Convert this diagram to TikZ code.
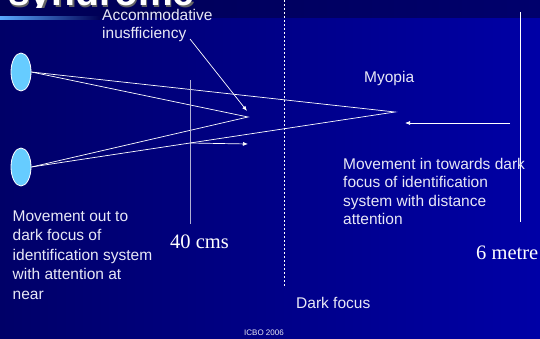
\documentclass[tikz,border=0pt]{standalone}
\usepackage{fontspec}
\setmainfont{Liberation Sans}
\newfontfamily\timesfont{Liberation Serif}
\usetikzlibrary{shapes.geometric, arrows.meta}
\definecolor{bgleft}{RGB}{0,0,104}
\definecolor{bgright}{RGB}{0,0,166}
\definecolor{bandleft}{RGB}{0,0,84}
\definecolor{bandright}{RGB}{0,0,108}
\definecolor{glow}{RGB}{90,170,255}
\definecolor{eyeblue}{RGB}{102,204,255}
\definecolor{labelgray}{RGB}{232,232,246}
\definecolor{rulegray}{RGB}{176,176,210}

\begin{document}
\begin{tikzpicture}[x=1pt,y=-1pt,
  eye/.style={draw=white,shape=ellipse,fill=eyeblue,line width=0.8pt,minimum width=20pt,minimum height=38pt,inner sep=0pt},
  ray/.style={draw=white,line width=0.7pt},
  tip/.style={ray,-{Latex[length=5pt,width=4pt]}},
  lbl/.style={text=labelgray,font=\fontsize{15.5}{19}\selectfont,inner sep=0pt,align=left,anchor=base west},
  dist/.style={text=white,font=\timesfont\fontsize{20.5}{24}\selectfont,inner sep=0pt,anchor=base west},
  headline/.style={anchor=base west,inner sep=0pt,font=\fontsize{39}{39}\selectfont\bfseries}]
  \useasboundingbox (0,0) rectangle (540,339);
  \clip (0,0) rectangle (540,339);
  \shade[left color=bgleft,right color=bgright] (0,18) rectangle (540,339);
  \shade[left color=bandleft,right color=bandright] (0,0) rectangle (540,18);
  \shade[left color=glow,right color=bandleft] (0,17) rectangle (100,19.5);
  \begin{scope}
    \clip (0,0) rectangle (540,8);
    \node[headline,text=black!60] (titleshadow) at (9.5,7.5) {syndrome};
    \node[headline,text=white] (title) at (8,6) {syndrome};
  \end{scope}
  \node[eye] (eyeU) at (21,72) {};
  \node[eye] (eyeL) at (21,167) {};
  \coordinate (nearpt) at (248,117);
  \coordinate (farpt) at (395,112);
  \draw[ray] (eyeU.east) -- (nearpt) -- (eyeL.east);
  \draw[ray] (eyeU.east) -- (farpt) -- (eyeL.east);
  \coordinate (nearT) at (190,80);
  \coordinate (nearB) at (190,224);
  \coordinate (darkT) at (284,0);
  \coordinate (darkB) at (284,287);
  \coordinate (farT) at (520,12);
  \coordinate (farB) at (520,222);
  \draw[ray,draw=rulegray] (nearT) -- (nearB);
  \draw[ray,dash pattern=on 2pt off 2pt] (darkT) -- (darkB);
  \draw[ray] (farT) -- (farB);
  \node[lbl,font=\fontsize{15.5}{18}\selectfont] (accom) at (102,38.5) {Accommodative\\inusfficiency};
  \node[lbl] (myopia) at (364,83) {Myopia};
  \node[lbl,font=\fontsize{15.5}{18.5}\selectfont] (inward) at (343,224.5) {Movement in towards dark\\focus of identification\\system with distance\\attention};
  \node[lbl,font=\fontsize{15.5}{19.5}\selectfont] (outward) at (12.5,299) {Movement out to\\dark focus of\\identification system\\with attention at\\near};
  \node[lbl] (darkfocus) at (296,308) {Dark focus};
  \node[dist] (nearcm) at (170,248) {40 cms};
  \node[dist] (farm) at (476,259) {6 metre};
  \node[anchor=base,text=labelgray,inner sep=0pt,font=\fontsize{8}{8}\selectfont] (icbo) at (264,335.5) {ICBO 2006};
  \coordinate (accomS) at (190,39);
  \coordinate (accomE) at (247,111);
  \coordinate (nearS) at (190,143);
  \coordinate (nearE) at (248,144);
  \coordinate (farS) at (510,123);
  \coordinate (farE) at (405,123);
  \draw[tip] (accomS) -- (accomE);
  \draw[tip] (nearS) -- (nearE);
  \draw[tip] (farS) -- (farE);
\end{tikzpicture}
\end{document}
